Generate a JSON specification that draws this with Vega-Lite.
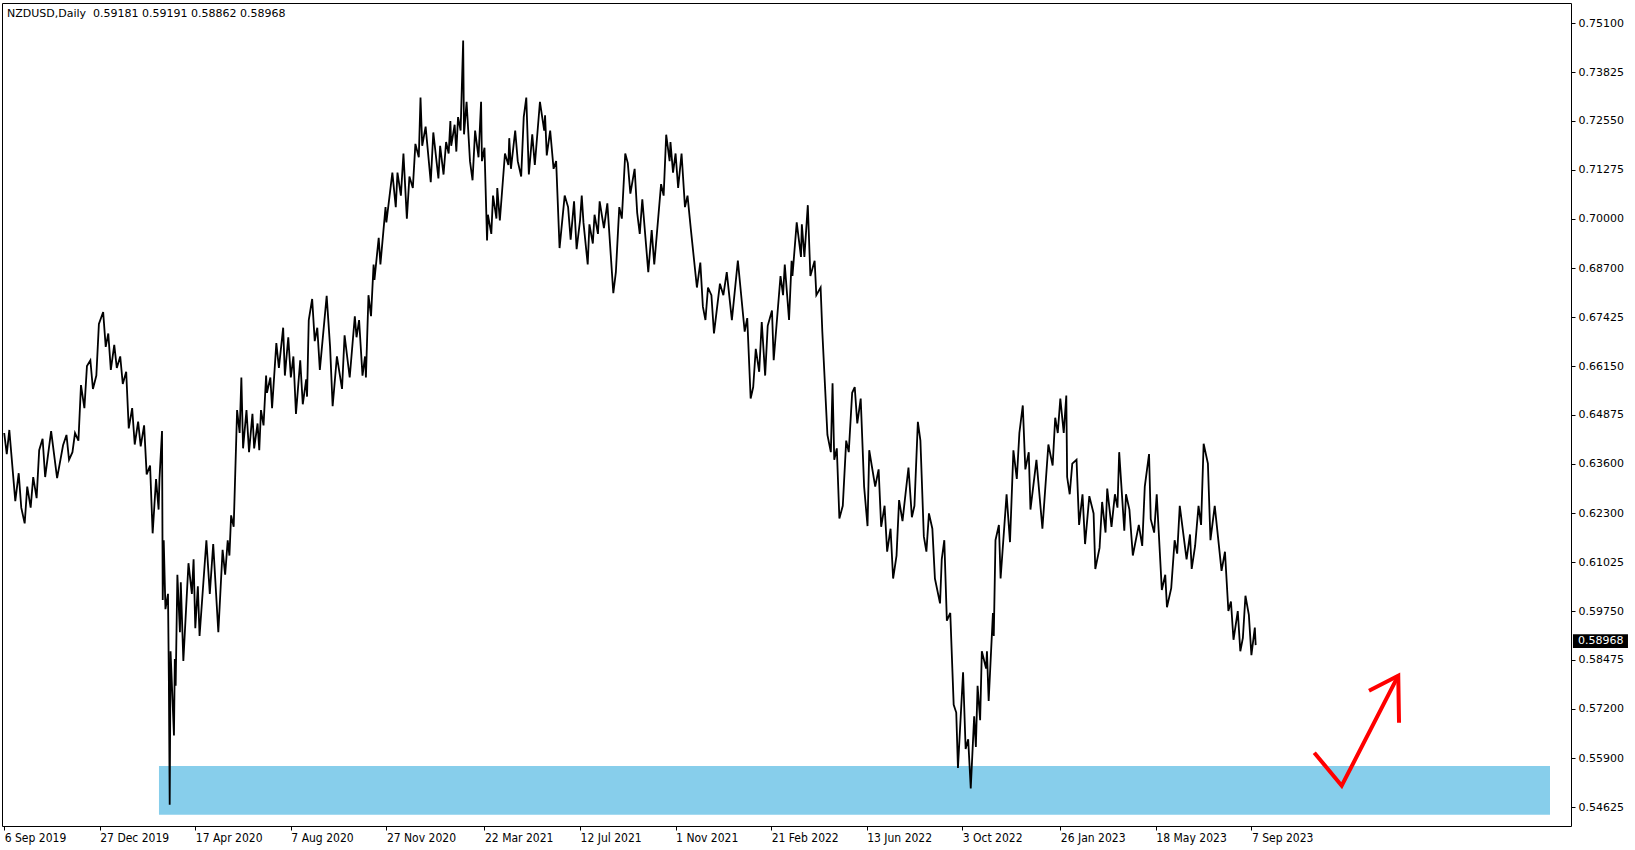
{
  "$schema": "https://vega.github.io/schema/vega-lite/v6.json",
  "width": 1569,
  "height": 823,
  "autosize": {"type": "none"},
  "padding": {"left": 2, "top": 3, "right": 64, "bottom": 24},
  "background": "white",
  "title": {
    "text": "NZDUSD,Daily\u00a0 0.59181 0.59191 0.58862 0.58968",
    "anchor": "start", "frame": "group", "orient": "top", "offset": -14, "dx": 5, "dy": 11,
    "baseline": "alphabetic", "font": "DejaVu Sans", "fontSize": 11, "fontWeight": "normal", "color": "black"
  },
  "config": {
    "view": {"stroke": "black", "strokeWidth": 1},
    "axis": {"grid": false, "domain": false, "tickColor": "black", "labelColor": "black", "title": null}
  },
  "datasets": {
    "px": [
      {"d":"2019-09-06","v":0.6440},{"d":"2019-09-09","v":0.6385},{"d":"2019-09-12","v":0.6448},{"d":"2019-09-19","v":0.6262},
      {"d":"2019-09-23","v":0.6335},{"d":"2019-09-26","v":0.6245},{"d":"2019-09-30","v":0.6204},{"d":"2019-10-03","v":0.6300},
      {"d":"2019-10-07","v":0.6245},{"d":"2019-10-10","v":0.6325},{"d":"2019-10-14","v":0.6270},{"d":"2019-10-17","v":0.6395},
      {"d":"2019-10-21","v":0.6425},{"d":"2019-10-24","v":0.6325},{"d":"2019-10-31","v":0.6445},{"d":"2019-11-07","v":0.6322},
      {"d":"2019-11-14","v":0.6408},{"d":"2019-11-18","v":0.6435},{"d":"2019-11-21","v":0.6370},{"d":"2019-11-25","v":0.6390},
      {"d":"2019-11-28","v":0.6440},{"d":"2019-12-02","v":0.6420},{"d":"2019-12-05","v":0.6565},{"d":"2019-12-09","v":0.6505},
      {"d":"2019-12-12","v":0.6615},{"d":"2019-12-16","v":0.6630},{"d":"2019-12-19","v":0.6555},{"d":"2019-12-23","v":0.6590},
      {"d":"2019-12-26","v":0.6725},{"d":"2019-12-31","v":0.6756},
      {"d":"2020-01-03","v":0.6665},{"d":"2020-01-06","v":0.6700},{"d":"2020-01-09","v":0.6605},{"d":"2020-01-13","v":0.6670},
      {"d":"2020-01-16","v":0.6610},{"d":"2020-01-20","v":0.6640},{"d":"2020-01-23","v":0.6568},{"d":"2020-01-27","v":0.6600},
      {"d":"2020-01-30","v":0.6452},{"d":"2020-02-03","v":0.6505},{"d":"2020-02-06","v":0.6410},{"d":"2020-02-10","v":0.6470},
      {"d":"2020-02-13","v":0.6405},{"d":"2020-02-17","v":0.6460},{"d":"2020-02-20","v":0.6332},{"d":"2020-02-24","v":0.6355},
      {"d":"2020-02-27","v":0.6178},{"d":"2020-03-02","v":0.6320},{"d":"2020-03-05","v":0.6240},{"d":"2020-03-06","v":0.6320},
      {"d":"2020-03-09","v":0.6445},{"d":"2020-03-09T20:00:00Z","v":0.6004},{"d":"2020-03-11","v":0.6160},{"d":"2020-03-13","v":0.5980},
      {"d":"2020-03-16","v":0.6020},{"d":"2020-03-17","v":0.5800},{"d":"2020-03-18","v":0.5469},{"d":"2020-03-19","v":0.5870},
      {"d":"2020-03-23","v":0.5650},{"d":"2020-03-24","v":0.5850},{"d":"2020-03-25","v":0.5780},{"d":"2020-03-27","v":0.6070},
      {"d":"2020-03-30","v":0.5920},{"d":"2020-03-31","v":0.6050},{"d":"2020-04-03","v":0.5845},{"d":"2020-04-09","v":0.6100},
      {"d":"2020-04-13","v":0.6020},{"d":"2020-04-15","v":0.6110},{"d":"2020-04-17","v":0.5930},{"d":"2020-04-20","v":0.6040},
      {"d":"2020-04-22","v":0.5910},{"d":"2020-04-30","v":0.6160},{"d":"2020-05-04","v":0.6020},{"d":"2020-05-08","v":0.6150},
      {"d":"2020-05-14","v":0.5920},{"d":"2020-05-19","v":0.6135},{"d":"2020-05-22","v":0.6070},{"d":"2020-05-25","v":0.6160},
      {"d":"2020-05-27","v":0.6120},{"d":"2020-05-29","v":0.6225},{"d":"2020-06-01","v":0.6195},{"d":"2020-06-05","v":0.6500},
      {"d":"2020-06-08","v":0.6440},{"d":"2020-06-10","v":0.6585},{"d":"2020-06-12","v":0.6400},{"d":"2020-06-16","v":0.6500},
      {"d":"2020-06-19","v":0.6390},{"d":"2020-06-23","v":0.6490},{"d":"2020-06-25","v":0.6400},{"d":"2020-06-29","v":0.6465},
      {"d":"2020-07-01","v":0.6395},{"d":"2020-07-03","v":0.6500},{"d":"2020-07-06","v":0.6460},{"d":"2020-07-09","v":0.6590},
      {"d":"2020-07-10","v":0.6545},{"d":"2020-07-14","v":0.6585},{"d":"2020-07-16","v":0.6505},{"d":"2020-07-21","v":0.6675},
      {"d":"2020-07-24","v":0.6610},{"d":"2020-07-29","v":0.6715},{"d":"2020-07-31","v":0.6590},{"d":"2020-08-04","v":0.6690},
      {"d":"2020-08-07","v":0.6585},{"d":"2020-08-10","v":0.6640},{"d":"2020-08-13","v":0.6490},{"d":"2020-08-18","v":0.6630},
      {"d":"2020-08-21","v":0.6515},{"d":"2020-08-25","v":0.6580},{"d":"2020-08-26","v":0.6535},{"d":"2020-08-28","v":0.6735},
      {"d":"2020-09-01","v":0.6790},{"d":"2020-09-04","v":0.6680},{"d":"2020-09-07","v":0.6715},{"d":"2020-09-10","v":0.6605},
      {"d":"2020-09-18","v":0.6798},{"d":"2020-09-22","v":0.6665},{"d":"2020-09-25","v":0.6510},{"d":"2020-09-30","v":0.6640},
      {"d":"2020-10-06","v":0.6555},{"d":"2020-10-09","v":0.6695},{"d":"2020-10-15","v":0.6585},{"d":"2020-10-21","v":0.6745},
      {"d":"2020-10-23","v":0.6690},{"d":"2020-10-26","v":0.6735},{"d":"2020-10-30","v":0.6590},{"d":"2020-11-02","v":0.6640},
      {"d":"2020-11-03","v":0.6585},{"d":"2020-11-06","v":0.6800},{"d":"2020-11-09","v":0.6745},{"d":"2020-11-12","v":0.6880},
      {"d":"2020-11-13","v":0.6840},{"d":"2020-11-18","v":0.6950},{"d":"2020-11-20","v":0.6880},{"d":"2020-11-26","v":0.7030},
      {"d":"2020-11-27","v":0.6990},{"d":"2020-12-04","v":0.7120},{"d":"2020-12-08","v":0.7030},{"d":"2020-12-10","v":0.7120},
      {"d":"2020-12-14","v":0.7060},{"d":"2020-12-17","v":0.7170},{"d":"2020-12-21","v":0.7000},{"d":"2020-12-24","v":0.7110},
      {"d":"2020-12-28","v":0.7080},{"d":"2020-12-31","v":0.7195},
      {"d":"2021-01-04","v":0.7160},{"d":"2021-01-06","v":0.7316},{"d":"2021-01-08","v":0.7190},{"d":"2021-01-12","v":0.7240},
      {"d":"2021-01-18","v":0.7095},{"d":"2021-01-21","v":0.7225},{"d":"2021-01-27","v":0.7105},{"d":"2021-01-29","v":0.7190},
      {"d":"2021-02-02","v":0.7115},{"d":"2021-02-05","v":0.7200},{"d":"2021-02-08","v":0.7170},{"d":"2021-02-10","v":0.7255},
      {"d":"2021-02-11","v":0.7190},{"d":"2021-02-15","v":0.7245},{"d":"2021-02-17","v":0.7175},{"d":"2021-02-19","v":0.7265},
      {"d":"2021-02-22","v":0.7230},{"d":"2021-02-25","v":0.7465},{"d":"2021-02-26","v":0.7220},{"d":"2021-03-01","v":0.7305},
      {"d":"2021-03-05","v":0.7150},{"d":"2021-03-08","v":0.7100},{"d":"2021-03-11","v":0.7230},{"d":"2021-03-15","v":0.7160},
      {"d":"2021-03-18","v":0.7305},{"d":"2021-03-19","v":0.7150},{"d":"2021-03-22","v":0.7185},{"d":"2021-03-25","v":0.6943},
      {"d":"2021-03-26","v":0.7010},{"d":"2021-03-30","v":0.6960},{"d":"2021-04-01","v":0.7060},{"d":"2021-04-05","v":0.7000},
      {"d":"2021-04-06","v":0.7080},{"d":"2021-04-09","v":0.6995},{"d":"2021-04-15","v":0.7170},{"d":"2021-04-19","v":0.7140},
      {"d":"2021-04-20","v":0.7210},{"d":"2021-04-22","v":0.7130},{"d":"2021-04-27","v":0.7230},{"d":"2021-04-30","v":0.7150},
      {"d":"2021-05-04","v":0.7110},{"d":"2021-05-07","v":0.7265},{"d":"2021-05-10","v":0.7316},{"d":"2021-05-13","v":0.7115},
      {"d":"2021-05-17","v":0.7220},{"d":"2021-05-20","v":0.7140},{"d":"2021-05-26","v":0.7305},{"d":"2021-05-31","v":0.7230},
      {"d":"2021-06-01","v":0.7270},{"d":"2021-06-03","v":0.7165},{"d":"2021-06-07","v":0.7230},{"d":"2021-06-11","v":0.7130},
      {"d":"2021-06-14","v":0.7150},{"d":"2021-06-18","v":0.6923},{"d":"2021-06-24","v":0.7060},{"d":"2021-06-28","v":0.7030},
      {"d":"2021-07-01","v":0.6945},{"d":"2021-07-05","v":0.7045},{"d":"2021-07-08","v":0.6920},{"d":"2021-07-12","v":0.6995},
      {"d":"2021-07-14","v":0.7060},{"d":"2021-07-16","v":0.6990},{"d":"2021-07-21","v":0.6880},{"d":"2021-07-23","v":0.6985},
      {"d":"2021-07-27","v":0.6935},{"d":"2021-07-29","v":0.7010},{"d":"2021-08-02","v":0.6960},{"d":"2021-08-04","v":0.7045},
      {"d":"2021-08-09","v":0.6975},{"d":"2021-08-13","v":0.7040},{"d":"2021-08-20","v":0.6805},{"d":"2021-08-23","v":0.6860},
      {"d":"2021-08-27","v":0.7030},{"d":"2021-08-30","v":0.7000},{"d":"2021-09-03","v":0.7170},{"d":"2021-09-06","v":0.7145},
      {"d":"2021-09-09","v":0.7065},{"d":"2021-09-14","v":0.7130},{"d":"2021-09-17","v":0.7015},{"d":"2021-09-20","v":0.6960},
      {"d":"2021-09-23","v":0.7050},{"d":"2021-09-30","v":0.6860},{"d":"2021-10-04","v":0.6970},{"d":"2021-10-07","v":0.6880},
      {"d":"2021-10-15","v":0.7090},{"d":"2021-10-18","v":0.7060},{"d":"2021-10-21","v":0.7219},{"d":"2021-10-25","v":0.7150},
      {"d":"2021-10-26","v":0.7200},{"d":"2021-10-29","v":0.7120},{"d":"2021-11-01","v":0.7170},{"d":"2021-11-04","v":0.7080},
      {"d":"2021-11-08","v":0.7170},{"d":"2021-11-12","v":0.7030},{"d":"2021-11-15","v":0.7060},{"d":"2021-11-19","v":0.6970},
      {"d":"2021-11-26","v":0.6820},{"d":"2021-11-30","v":0.6885},{"d":"2021-12-03","v":0.6770},{"d":"2021-12-06","v":0.6735},
      {"d":"2021-12-09","v":0.6820},{"d":"2021-12-13","v":0.6800},{"d":"2021-12-16","v":0.6700},{"d":"2021-12-23","v":0.6830},
      {"d":"2021-12-27","v":0.6800},{"d":"2021-12-31","v":0.6860},
      {"d":"2022-01-06","v":0.6735},{"d":"2022-01-13","v":0.6890},{"d":"2022-01-21","v":0.6705},{"d":"2022-01-24","v":0.6740},
      {"d":"2022-01-28","v":0.6530},{"d":"2022-01-31","v":0.6560},{"d":"2022-02-03","v":0.6660},{"d":"2022-02-07","v":0.6600},
      {"d":"2022-02-10","v":0.6730},{"d":"2022-02-14","v":0.6590},{"d":"2022-02-17","v":0.6720},{"d":"2022-02-22","v":0.6760},
      {"d":"2022-02-24","v":0.6630},{"d":"2022-03-04","v":0.6850},{"d":"2022-03-07","v":0.6800},{"d":"2022-03-09","v":0.6880},
      {"d":"2022-03-14","v":0.6735},{"d":"2022-03-17","v":0.6890},{"d":"2022-03-18","v":0.6850},{"d":"2022-03-23","v":0.6990},
      {"d":"2022-03-28","v":0.6900},{"d":"2022-03-29","v":0.6985},{"d":"2022-04-01","v":0.6900},{"d":"2022-04-05","v":0.7035},
      {"d":"2022-04-08","v":0.6850},{"d":"2022-04-13","v":0.6890},{"d":"2022-04-15","v":0.6800},{"d":"2022-04-20","v":0.6820},
      {"d":"2022-04-22","v":0.6705},{"d":"2022-04-28","v":0.6435},{"d":"2022-05-02","v":0.6390},{"d":"2022-05-04","v":0.6570},
      {"d":"2022-05-06","v":0.6370},{"d":"2022-05-09","v":0.6400},{"d":"2022-05-12","v":0.6217},{"d":"2022-05-16","v":0.6250},
      {"d":"2022-05-20","v":0.6420},{"d":"2022-05-23","v":0.6390},{"d":"2022-05-27","v":0.6545},{"d":"2022-05-30","v":0.6560},
      {"d":"2022-06-02","v":0.6465},{"d":"2022-06-06","v":0.6530},{"d":"2022-06-10","v":0.6300},{"d":"2022-06-14","v":0.6197},
      {"d":"2022-06-16","v":0.6395},{"d":"2022-06-23","v":0.6300},{"d":"2022-06-27","v":0.6345},{"d":"2022-06-30","v":0.6195},
      {"d":"2022-07-04","v":0.6250},{"d":"2022-07-07","v":0.6130},{"d":"2022-07-11","v":0.6190},{"d":"2022-07-14","v":0.6060},
      {"d":"2022-07-18","v":0.6120},{"d":"2022-07-21","v":0.6265},{"d":"2022-07-25","v":0.6210},{"d":"2022-07-29","v":0.6290},
      {"d":"2022-08-01","v":0.6350},{"d":"2022-08-05","v":0.6220},{"d":"2022-08-08","v":0.6250},{"d":"2022-08-12","v":0.6469},
      {"d":"2022-08-15","v":0.6420},{"d":"2022-08-19","v":0.6170},{"d":"2022-08-22","v":0.6130},{"d":"2022-08-25","v":0.6230},
      {"d":"2022-08-29","v":0.6190},{"d":"2022-09-01","v":0.6060},{"d":"2022-09-07","v":0.5995},{"d":"2022-09-09","v":0.6110},
      {"d":"2022-09-12","v":0.6160},{"d":"2022-09-15","v":0.5950},{"d":"2022-09-19","v":0.5970},{"d":"2022-09-23","v":0.5730},
      {"d":"2022-09-26","v":0.5710},{"d":"2022-09-28","v":0.5565},{"d":"2022-10-04","v":0.5815},{"d":"2022-10-07","v":0.5615},
      {"d":"2022-10-10","v":0.5640},{"d":"2022-10-13","v":0.5512},{"d":"2022-10-17","v":0.5700},{"d":"2022-10-19","v":0.5620},
      {"d":"2022-10-21","v":0.5780},{"d":"2022-10-24","v":0.5690},{"d":"2022-10-26","v":0.5870},{"d":"2022-10-31","v":0.5825},
      {"d":"2022-11-01","v":0.5870},{"d":"2022-11-03","v":0.5740},{"d":"2022-11-08","v":0.5970},{"d":"2022-11-09","v":0.5910},
      {"d":"2022-11-11","v":0.6160},{"d":"2022-11-15","v":0.6200},{"d":"2022-11-17","v":0.6060},{"d":"2022-11-24","v":0.6280},
      {"d":"2022-11-28","v":0.6155},{"d":"2022-12-02","v":0.6395},{"d":"2022-12-06","v":0.6320},{"d":"2022-12-09","v":0.6440},
      {"d":"2022-12-13","v":0.6512},{"d":"2022-12-16","v":0.6345},{"d":"2022-12-20","v":0.6390},{"d":"2022-12-22","v":0.6240},
      {"d":"2022-12-29","v":0.6370},
      {"d":"2023-01-05","v":0.6190},{"d":"2023-01-12","v":0.6410},{"d":"2023-01-17","v":0.6355},{"d":"2023-01-20","v":0.6480},
      {"d":"2023-01-23","v":0.6440},{"d":"2023-01-26","v":0.6530},{"d":"2023-01-30","v":0.6440},{"d":"2023-02-02","v":0.6538},
      {"d":"2023-02-03","v":0.6325},{"d":"2023-02-06","v":0.6280},{"d":"2023-02-09","v":0.6360},{"d":"2023-02-14","v":0.6370},
      {"d":"2023-02-17","v":0.6200},{"d":"2023-02-21","v":0.6280},{"d":"2023-02-24","v":0.6150},{"d":"2023-03-01","v":0.6275},
      {"d":"2023-03-06","v":0.6230},{"d":"2023-03-08","v":0.6085},{"d":"2023-03-13","v":0.6140},{"d":"2023-03-16","v":0.6260},
      {"d":"2023-03-20","v":0.6180},{"d":"2023-03-22","v":0.6295},{"d":"2023-03-27","v":0.6195},{"d":"2023-03-31","v":0.6280},
      {"d":"2023-04-03","v":0.6245},{"d":"2023-04-05","v":0.6390},{"d":"2023-04-11","v":0.6185},{"d":"2023-04-13","v":0.6280},
      {"d":"2023-04-17","v":0.6240},{"d":"2023-04-21","v":0.6120},{"d":"2023-04-28","v":0.6200},{"d":"2023-05-02","v":0.6145},
      {"d":"2023-05-05","v":0.6300},{"d":"2023-05-10","v":0.6385},{"d":"2023-05-12","v":0.6215},{"d":"2023-05-16","v":0.6180},
      {"d":"2023-05-19","v":0.6280},{"d":"2023-05-25","v":0.6030},{"d":"2023-05-29","v":0.6070},{"d":"2023-05-31","v":0.5985},
      {"d":"2023-06-05","v":0.6035},{"d":"2023-06-09","v":0.6160},{"d":"2023-06-12","v":0.6125},{"d":"2023-06-15","v":0.6250},
      {"d":"2023-06-23","v":0.6110},{"d":"2023-06-27","v":0.6175},{"d":"2023-06-29","v":0.6085},{"d":"2023-07-03","v":0.6145},
      {"d":"2023-07-07","v":0.6250},{"d":"2023-07-10","v":0.6200},{"d":"2023-07-13","v":0.6412},{"d":"2023-07-18","v":0.6360},
      {"d":"2023-07-21","v":0.6160},{"d":"2023-07-26","v":0.6250},{"d":"2023-08-03","v":0.6080},{"d":"2023-08-07","v":0.6130},
      {"d":"2023-08-11","v":0.5975},{"d":"2023-08-14","v":0.6000},{"d":"2023-08-17","v":0.5900},{"d":"2023-08-22","v":0.5975},
      {"d":"2023-08-25","v":0.5870},{"d":"2023-08-28","v":0.5905},{"d":"2023-08-31","v":0.6015},{"d":"2023-09-04","v":0.5965},
      {"d":"2023-09-07","v":0.5860},{"d":"2023-09-11","v":0.5932},{"d":"2023-09-12","v":0.5886}
    ]
  },
  "layer": [
    {
      "data": {"values": [{"d": "2020-03-05T10:00:00Z", "d2": "2024-08-22T00:00:00Z", "v": 0.55704, "v2": 0.54432}]},
      "mark": {"type": "rect", "color": "#87CEEB"},
      "encoding": {
        "x": {
          "field": "d", "type": "temporal",
          "scale": {"type": "utc", "nice": false,
            "domain": [{"year": 2019, "month": 9, "date": 3, "hours": 10, "utc": true}, {"year": 2024, "month": 9, "date": 15, "hours": 15, "utc": true}]},
          "axis": {
            "orient": "bottom",
            "values": [
              {"year": 2019, "month": 9, "date": 6, "utc": true}, {"year": 2019, "month": 12, "date": 27, "utc": true},
              {"year": 2020, "month": 4, "date": 17, "utc": true}, {"year": 2020, "month": 8, "date": 7, "utc": true},
              {"year": 2020, "month": 11, "date": 27, "utc": true}, {"year": 2021, "month": 3, "date": 22, "utc": true},
              {"year": 2021, "month": 7, "date": 12, "utc": true}, {"year": 2021, "month": 11, "date": 1, "utc": true},
              {"year": 2022, "month": 2, "date": 21, "utc": true}, {"year": 2022, "month": 6, "date": 13, "utc": true},
              {"year": 2022, "month": 10, "date": 3, "utc": true}, {"year": 2023, "month": 1, "date": 26, "utc": true},
              {"year": 2023, "month": 5, "date": 18, "utc": true}, {"year": 2023, "month": 9, "date": 7, "utc": true}
            ],
            "labelExpr": "utcFormat(datum.value, '%-d %b %Y')",
            "tickSize": 4, "labelAlign": "left", "labelBaseline": "top", "labelPadding": 2,
            "labelFont": "DejaVu Sans Condensed", "labelFontSize": 12, "labelOverlap": false, "labelFlush": false, "labelBound": false
          }
        },
        "x2": {"field": "d2"},
        "y": {
          "field": "v", "type": "quantitative",
          "scale": {"domain": [0.54137, 0.7563], "nice": false, "zero": false},
          "axis": {
            "orient": "right",
            "values": [0.54625, 0.559, 0.572, 0.58475, 0.5975, 0.61025, 0.623, 0.636, 0.64875, 0.6615, 0.67425, 0.687, 0.7, 0.71275, 0.7255, 0.73825, 0.751],
            "format": ".5f", "tickSize": 4, "labelPadding": 3,
            "labelFont": "DejaVu Sans", "labelFontSize": 11, "labelOverlap": false, "labelBaseline": "middle"
          }
        },
        "y2": {"field": "v2"}
      }
    },
    {
      "data": {"name": "px"},
      "mark": {"type": "line", "color": "black", "strokeWidth": 1.8, "strokeJoin": "miter"},
      "encoding": {
        "x": {"field": "d", "type": "temporal"},
        "y": {"field": "v", "type": "quantitative"}
      }
    },
    {
      "data": {"values": [
        {"d": "2023-11-19T17:00:00Z", "v": 0.56051, "s": 1, "o": 1},
        {"d": "2023-12-21T20:00:00Z", "v": 0.55189, "s": 1, "o": 2},
        {"d": "2024-02-26T03:00:00Z", "v": 0.58062, "s": 1, "o": 3},
        {"d": "2024-01-22T20:00:00Z", "v": 0.57670, "s": 2, "o": 1},
        {"d": "2024-02-26T03:00:00Z", "v": 0.58062, "s": 2, "o": 2},
        {"d": "2024-02-27T01:00:00Z", "v": 0.56834, "s": 2, "o": 3}
      ]},
      "mark": {"type": "line", "color": "#ff0000", "strokeWidth": 4, "strokeCap": "butt", "strokeJoin": "miter"},
      "encoding": {
        "x": {"field": "d", "type": "temporal"},
        "y": {"field": "v", "type": "quantitative"},
        "detail": {"field": "s"}, "order": {"field": "o"}
      }
    },
    {
      "data": {"values": [{"v": 0.58968}]},
      "mark": {"type": "rect", "color": "black", "clip": false},
      "encoding": {
        "x": {"datum": {"year": 2024, "month": 9, "date": 17, "hours": 22, "utc": true}, "type": "temporal"},
        "x2": {"datum": {"year": 2024, "month": 11, "date": 21, "hours": 10, "utc": true}},
        "y": {"datum": 0.59143, "type": "quantitative"},
        "y2": {"datum": 0.58785}
      }
    },
    {
      "data": {"values": [{"v": 0.58968}]},
      "mark": {"type": "text", "color": "white", "align": "left", "baseline": "middle", "font": "DejaVu Sans", "fontSize": 11, "clip": false},
      "encoding": {
        "x": {"datum": {"year": 2024, "month": 9, "date": 23, "hours": 20, "utc": true}, "type": "temporal"},
        "y": {"field": "v", "type": "quantitative"},
        "text": {"field": "v", "format": ".5f"}
      }
    }
  ]
}
